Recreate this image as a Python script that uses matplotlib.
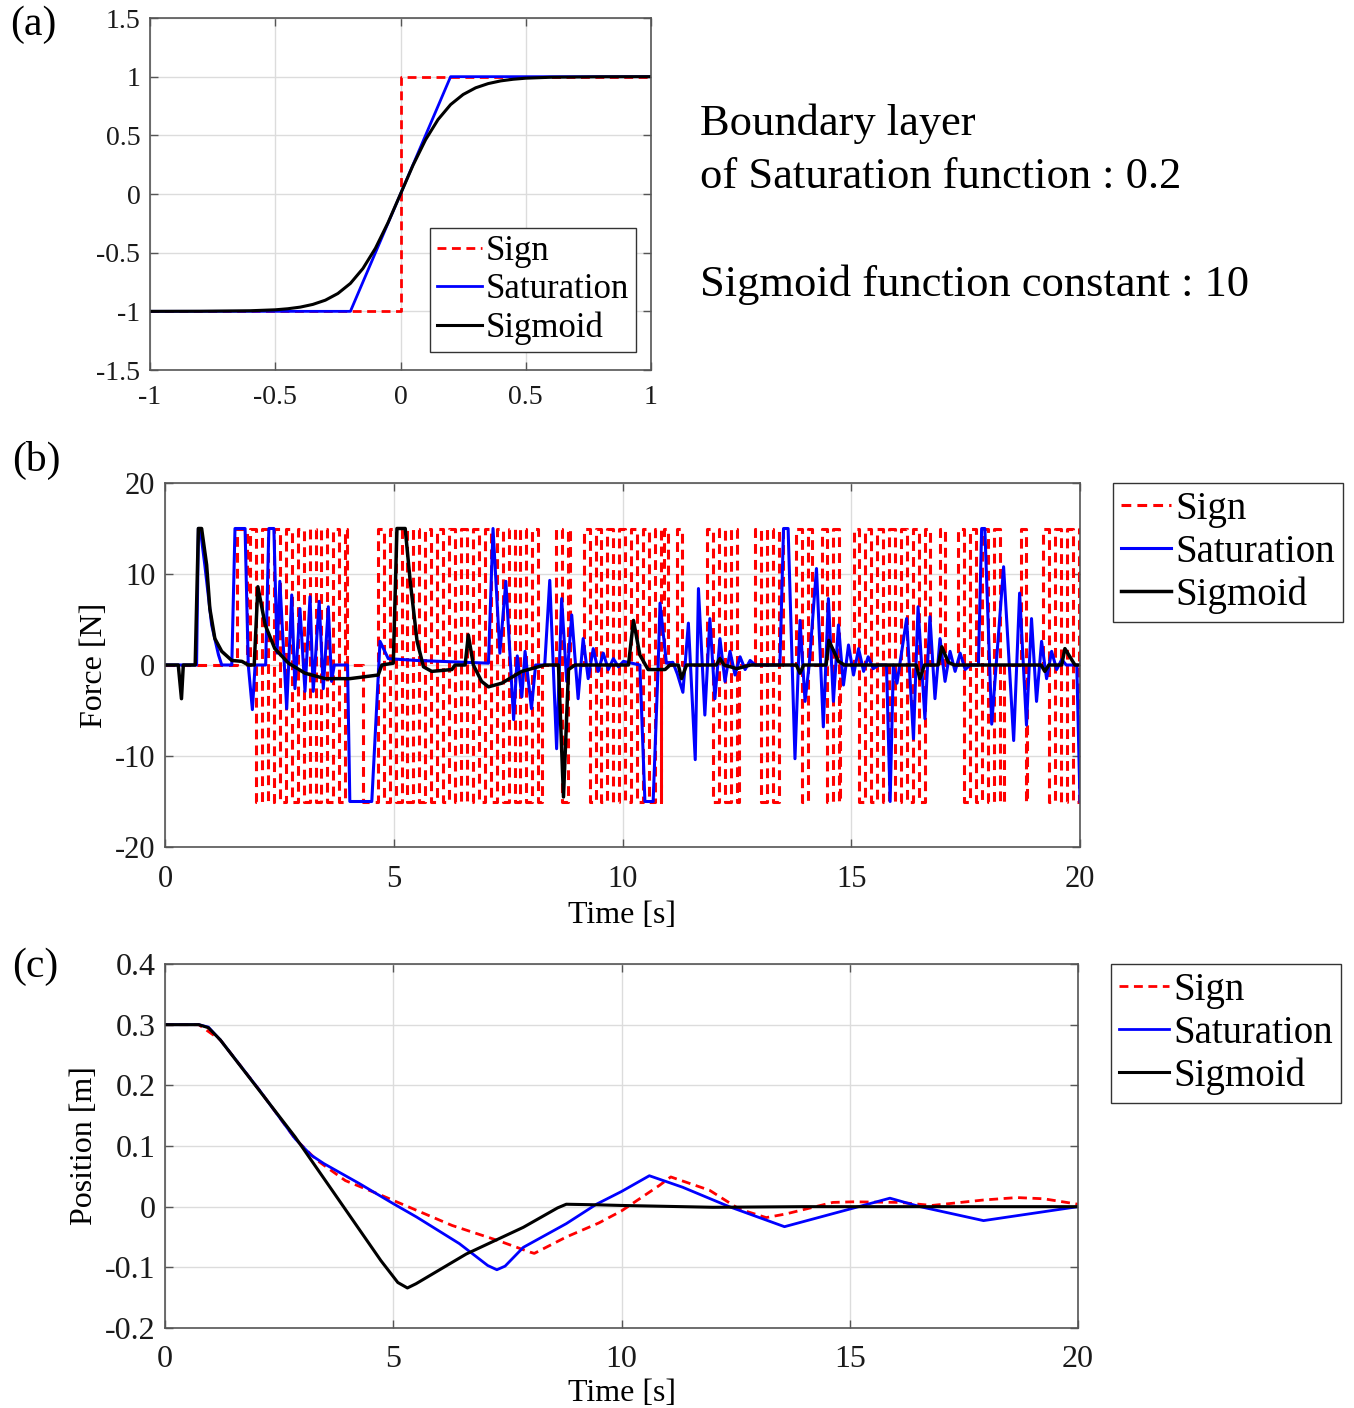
import numpy as np
import matplotlib
matplotlib.use('Agg')
from matplotlib import pyplot as plt

plt.rcParams['font.family'] = ['Liberation Serif', 'DejaVu Serif']

# ---- (a) switching functions ----
sign_x = [-1, 0, 0, 1]
sign_y = [-1, -1, 1, 1]
sat_x = [-1, -0.2, 0.2, 1]
sat_y = [-1, -1, 1, 1]
sig_x = [-1, -0.8, -0.6, -0.5, -0.45, -0.4, -0.35, -0.3, -0.25, -0.2, -0.15, -0.1, -0.05,
         0, 0.05, 0.1, 0.15, 0.2, 0.25, 0.3, 0.35, 0.4, 0.45, 0.5, 0.6, 0.8, 1]
sig_y = [-1.0, -0.999, -0.995, -0.987, -0.978, -0.964, -0.941, -0.905, -0.848, -0.762, -0.635, -0.462, -0.245,
         0, 0.245, 0.462, 0.635, 0.762, 0.848, 0.905, 0.941, 0.964, 0.978, 0.987, 0.995, 0.999, 1.0]

# ---- (b) control force ----
# sign controller: held levels and chattering bursts (between them it sits at 0)
sign_holds = [(1.57, 1.80, 15), (4.33, 4.65, -15)]
sign_bursts = [(1.86, 3.98), (4.65, 8.25), (8.55, 8.85), (9.15, 10.85), (10.9, 11.0), (11.2, 11.3),
               (11.85, 12.55), (12.9, 13.5), (13.8, 14.15), (14.35, 14.75), (15.05, 16.72),
               (16.95, 17.05), (17.34, 18.33), (18.7, 18.85), (19.2, 20.0)]
switch_dt = 0.13

sat_t = [0, 0.69, 0.73, 0.77, 0.87, 1.02, 1.17, 1.24, 1.46, 1.53, 1.75, 1.82, 1.91, 1.97, 2.2, 2.27, 2.38,
         2.45, 2.51, 2.66, 2.77, 2.84, 2.95, 3.06, 3.17, 3.24, 3.37, 3.46, 3.57, 3.64, 3.70, 3.99, 4.04,
         4.52, 4.70, 4.88, 5.5, 7.07, 7.17, 7.32, 7.45, 7.62, 7.70, 7.80, 7.87, 8.01, 8.1, 8.3, 8.41,
         8.56, 8.67, 8.78, 8.89, 9.03, 9.14, 9.25, 9.36, 9.47, 9.58, 9.69, 9.80, 9.91, 10.02, 10.38,
         10.49, 10.67, 10.78, 10.82, 10.96, 11.1, 11.2, 11.32, 11.44, 11.59, 11.66, 11.80, 11.91, 12.02,
         12.13, 12.24, 12.35, 12.46, 12.57, 12.68, 12.79, 12.9, 13.44, 13.52, 13.62, 13.77, 13.88, 13.99,
         14.08, 14.24, 14.39, 14.50, 14.61, 14.72, 14.83, 14.94, 15.05, 15.16, 15.27, 15.37, 15.48, 15.6,
         15.77, 15.85, 15.92, 16.0, 16.21, 16.36, 16.46, 16.61, 16.72, 16.83, 16.94, 17.05, 17.16, 17.27,
         17.38, 17.49, 17.6, 17.78, 17.85, 17.92, 18.07, 18.33, 18.55, 18.68, 18.83, 18.94, 19.05, 19.16,
         19.27, 19.38, 19.49, 19.6, 19.7, 19.93, 20.0]
sat_f = [0, 0, 15, 15, 11, 4.4, 1.1, 0, 0, 15, 15, 0, -4.9, 0, 0, 15, 15,
         1.3, 9.2, -4.8, 7.7, -2.6, 6.2, -2.9, 7.5, -2.9, 7.0, -2.6, 6.4, -1.8, 0, 0, -15,
         -15, 2.6, 0.7, 0.5, 0.2, 15, 1.3, 9.2, -6.0, 1.0, -3.5, 1.5, -4.8, 0, 0, 9.3,
         -9.2, 7.3, -1.8, 5.5, -3.7, 2.9, -1.5, 1.8, -0.7, 1.3, -0.5, 0.7, -0.2, 0.4, 0,
         -15, -15, 0, 6.8, 0.2, 0.3, -1.0, -3.0, 4.6, -10.4, 8.4, -5.5, 5.1, -3.7,
         2.9, -1.8, 1.5, -1.1, 0.9, -0.5, 0.5, 0, 0, 15, 15, -10.3, 4.9, -4.0,
         0, 10.6, -6.8, 7.3, -4.0, 4.4, -2.2, 2.2, -1.1, 1.8, -0.7, 0.9, -0.4, 0,
         0, -15, 0, -2.0, 5.1, -8.1, 6.4, -5.9, 5.3, -3.7, 2.9, -1.8, 1.5, -0.7,
         1.3, -0.5, 0, 0, 15, 15, -6.5, 10.8, -8.3, 7.9, -6.6, 5.1, -4.0, 2.6,
         -1.5, 1.5, -0.5, 0.6, 0, 0, -15]

sigm_t = [0, 0.29, 0.36, 0.40, 0.66, 0.73, 0.80, 0.91, 0.98, 1.09, 1.24, 1.46, 1.68, 1.82, 1.95, 2.03,
          2.19, 2.40, 2.70, 3.06, 3.5, 4.04, 4.66, 4.74, 4.99, 5.07, 5.25, 5.36, 5.51, 5.65, 5.83, 6.27,
          6.34, 6.56, 6.63, 6.74, 6.92, 7.07, 7.36, 7.80, 8.30, 8.60, 8.71, 8.82, 8.96, 10.13, 10.24,
          10.38, 10.56, 10.93, 11.04, 11.22, 11.29, 11.40, 12.05, 12.13, 12.22, 12.5, 12.8, 13.8, 13.88,
          13.96, 14.45, 14.51, 14.72, 14.85, 16.42, 16.5, 16.6, 16.9, 16.98, 17.12, 17.25, 19.15, 19.23,
          19.32, 19.6, 19.67, 19.89, 20.0]
sigm_f = [0, 0, -3.7, 0, 0, 15, 15, 11, 6.2, 2.9, 1.5, 0.5, 0.4, 0, 0, 8.6,
          4.4, 1.8, 0.2, -0.9, -1.5, -1.5, -1.1, 0, 0.2, 15, 15, 9.2, 2.6, -0.2, -0.7, -0.5,
          0, 0, 3.3, 0, -1.8, -2.4, -2.0, -0.7, 0, 0, -14.5, -0.5, 0, 0, 4.9,
          1.1, -0.5, -0.5, 0, 0, -1.5, 0, 0, 0.7, 0, -0.4, 0, 0, -0.9,
          0, 0, 2.7, 0.4, 0, 0, -1.5, 0, 0, 2.0, 0.3, 0, 0, -0.7,
          0, 0, 1.8, 0, 0]

# ---- (c) position ----
pos_sign_t = [0, 0.74, 1.21, 2.07, 2.85, 3.32, 3.95, 4.73, 5.51, 6.29, 7.3, 8.0, 8.09, 8.79, 9.5, 10.0,
              10.83, 11.08, 11.93, 12.58, 13.17, 13.6, 14.63, 15.07, 16.1, 16.8, 17.93, 18.66, 19.25, 20]
pos_sign = [0.3, 0.3, 0.275, 0.192, 0.112, 0.077, 0.043, 0.019, -0.006, -0.031, -0.056, -0.075, -0.077,
            -0.05, -0.027, -0.007, 0.035, 0.049, 0.027, -0.004, -0.018, -0.012, 0.007, 0.008, 0.007,
            0.002, 0.011, 0.015, 0.013, 0.004]
pos_sat_t = [0, 0.74, 0.95, 1.21, 2.07, 2.85, 3.2, 3.48, 4.26, 5.0, 5.51, 6.45, 7.07, 7.27, 7.45, 7.85,
             8.79, 9.45, 10.0, 10.61, 11.34, 12.36, 13.57, 15.0, 15.88, 16.54, 17.93, 20]
pos_sat = [0.3, 0.3, 0.296, 0.275, 0.192, 0.112, 0.085, 0.071, 0.038, 0.005, -0.017, -0.061, -0.097,
           -0.104, -0.098, -0.067, -0.028, 0.004, 0.025, 0.051, 0.032, 0.0, -0.033, -0.004, 0.014,
           0.0, -0.023, 0.0]
pos_sigm_t = [0, 0.74, 0.95, 1.21, 2.85, 4.73, 5.1, 5.31, 5.5, 6.6, 7.85, 8.6, 8.79, 9.5, 10, 12, 14, 20]
pos_sigm = [0.3, 0.3, 0.295, 0.275, 0.115, -0.089, -0.125, -0.134, -0.127, -0.078, -0.034, -0.002,
            0.004, 0.003, 0.002, -0.001, 0.0, 0.0]

labels = ['Sign', 'Saturation', 'Sigmoid']


def sign_force():
    ev = [(0.0, 0)]
    for a, b, v in sign_holds:
        ev += [(a, v), (b, 0)]
    for a, b in sign_bursts:
        for i, t in enumerate(np.arange(a, b, switch_dt)):
            ev.append((t, 15 if i % 2 == 0 else -15))
        ev.append((b, 0))
    ev.sort(key=lambda e: e[0])
    t, f = zip(*ev)
    return list(t) + [20.0], list(f) + [f[-1]]


def style(ax, fs, xpad):
    ax.grid(True, color='#dcdcdc', lw=1.0)
    ax.set_axisbelow(True)
    for s in ax.spines.values():
        s.set_color('#555555')
        s.set_linewidth(1.2)
    ax.tick_params(direction='in', length=6, width=1, color='#555555', labelsize=fs,
                   top=True, right=True, pad=7, labelcolor='#1a1a1a')
    ax.tick_params(axis='x', pad=xpad)


def legend(ax, fs, **kw):
    lg = ax.legend(labels, fontsize=fs, fancybox=False, edgecolor='#333333', framealpha=1,
                   handlelength=1.3, handletextpad=0.1, labelspacing=0.15, borderpad=0.2,
                   borderaxespad=0, **kw)
    lg.get_frame().set_linewidth(1.0)
    return lg


DASH = (0, (3.2, 2.0))

fig = plt.figure(figsize=(13.54, 14.08), dpi=100)

# (a)
ax1 = fig.add_axes([150/1354, 1-370/1408, 501/1354, 352/1408])
ax1.plot(sign_x, sign_y, color='r', ls=DASH, lw=2.0)
ax1.plot(sat_x, sat_y, color='b', lw=2.0)
ax1.plot(sig_x, sig_y, color='k', lw=2.2)
ax1.set_xlim(-1, 1)
ax1.set_ylim(-1.5, 1.5)
ax1.set_xticks([-1, -0.5, 0, 0.5, 1])
ax1.set_xticklabels(['-1', '-0.5', '0', '0.5', '1'])
ax1.set_yticks([-1.5, -1, -0.5, 0, 0.5, 1, 1.5])
ax1.set_yticklabels(['-1.5', '-1', '-0.5', '0', '0.5', '1', '1.5'])
style(ax1, 20, 11)
legend(ax1, 25, loc='lower right', bbox_to_anchor=(0.97, 0.051))

fig.text(700/1354, 1-124/1408, 'Boundary layer', fontsize=32, va='center')
fig.text(700/1354, 1-177/1408, 'of Saturation function : 0.2', fontsize=32, va='center')
fig.text(700/1354, 1-285/1408, 'Sigmoid function constant : 10', fontsize=32, va='center')

# (b)
ax2 = fig.add_axes([165/1354, 1-847/1408, 915/1354, 364/1408])
rt, rf = sign_force()
ax2.plot(rt, rf, color='r', ls=DASH, lw=2.2, drawstyle='steps-post')
ax2.plot(sat_t, sat_f, color='b', lw=2.2)
ax2.plot(sigm_t, sigm_f, color='k', lw=2.5)
ax2.set_xlim(0, 20)
ax2.set_ylim(-20, 20)
ax2.set_xticks([0, 5, 10, 15, 20])
ax2.set_yticks([-20, -10, 0, 10, 20])
ax2.set_yticklabels(['-20', '-10', '0', '10', '20'])
style(ax2, 22, 13)
ax2.set_xlabel('Time [s]', fontsize=23, labelpad=5)
ax2.set_ylabel('Force [N]', fontsize=23, labelpad=4)
legend(ax2, 28, loc='upper left', bbox_to_anchor=(1113/1354, 1-483/1408),
       bbox_transform=fig.transFigure)

# (c)
ax3 = fig.add_axes([165/1354, 1-1328/1408, 913/1354, 364/1408])
ax3.plot(pos_sign_t, pos_sign, color='r', ls=DASH, lw=2.0)
ax3.plot(pos_sat_t, pos_sat, color='b', lw=2.0)
ax3.plot(pos_sigm_t, pos_sigm, color='k', lw=2.2)
ax3.set_xlim(0, 20)
ax3.set_ylim(-0.2, 0.4)
ax3.set_xticks([0, 5, 10, 15, 20])
ax3.set_yticks([-0.2, -0.1, 0, 0.1, 0.2, 0.3, 0.4])
ax3.set_yticklabels(['-0.2', '-0.1', '0', '0.1', '0.2', '0.3', '0.4'])
style(ax3, 23, 12)
ax3.set_xlabel('Time [s]', fontsize=23, labelpad=4)
ax3.set_ylabel('Position [m]', fontsize=23, labelpad=4)
legend(ax3, 28, loc='upper left', bbox_to_anchor=(1111/1354, 1-964/1408),
       bbox_transform=fig.transFigure)

fig.text(10/1354, 1-25/1408, '(a)', fontsize=30, va='center')
fig.text(12/1354, 1-460/1408, '(b)', fontsize=30, va='center')
fig.text(12/1354, 1-967/1408, '(c)', fontsize=30, va='center')

fig.savefig('out.png', dpi=100)
